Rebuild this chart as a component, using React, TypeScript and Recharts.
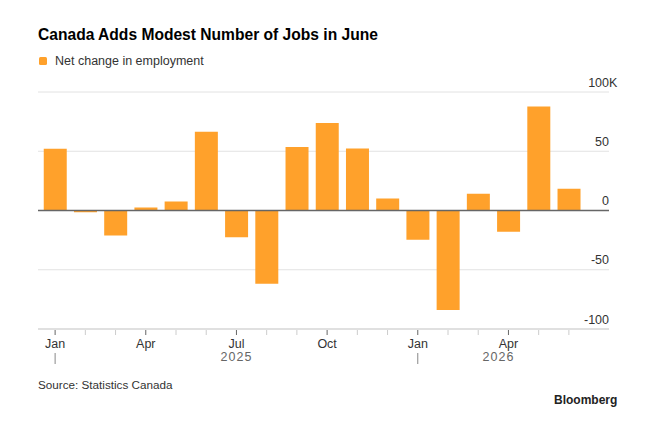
import React from "react";
import { BarChart, Bar, XAxis, YAxis, CartesianGrid, ReferenceLine } from "recharts";

const periods = [
  "2025-01", "2025-02", "2025-03", "2025-04", "2025-05", "2025-06",
  "2025-07", "2025-08", "2025-09", "2025-10", "2025-11", "2025-12",
  "2026-01", "2026-02", "2026-03", "2026-04", "2026-05", "2026-06",
];
const netChange = [
  52.1, -1.5, -21.1, 2.5, 7.6, 66.5,
  -22.5, -61.9, 53.5, 73.8, 52.4, 10.1,
  -24.7, -83.9, 14.1, -18.0, 87.8, 18.3,
];
const monthLabels = [
  "Jan", "", "", "Apr", "", "", "Jul", "", "", "Oct", "", "",
  "Jan", "", "", "Apr", "", "",
];
const yearLabels = [
  { period: "2025-07", text: "2025", dx: 0 },
  { period: "2026-04", text: "2026", dx: -10 },
];
const yearStarts = ["2025-01", "2026-01"];
const yTicks = [-100, -50, 0, 50, 100];

const data = periods.map((p, i) => ({ period: p, value: netChange[i], label: monthLabels[i] }));

const ORANGE = "#ffa12b";
const FONT = "'Liberation Sans', Arial, Helvetica, sans-serif";

const XTick = (props: any) => {
  const { x, y, payload, index } = props;
  const i = typeof index === "number" ? index : periods.indexOf(payload.value);
  const label = monthLabels[i];
  const major = label !== "";
  const year = yearLabels.find((yl) => yl.period === payload.value);
  const isYearStart = yearStarts.includes(payload.value);
  return (
    <g>
      <line x1={x} x2={x} y1={y + 1} y2={y + 6} stroke={major ? "#666" : "#ccc"} strokeWidth={1} />
      {major && (
        <text x={x} y={y + 19} textAnchor="middle" fontSize={12.5} fill="#333" fontFamily={FONT}>
          {label}
        </text>
      )}
      {isYearStart && <line x1={x} x2={x} y1={y + 24} y2={y + 35} stroke="#888" strokeWidth={1} />}
      {year && (
        <text x={x + year.dx} y={y + 32} textAnchor="middle" fontSize={12.5} fill="#666" fontFamily={FONT} letterSpacing={1}>
          {year.text}
        </text>
      )}
    </g>
  );
};

const YTick = (props: any) => {
  const { x, y, payload } = props;
  const v = payload.value;
  return (
    <g>
      <text x={x} y={y - 5.5} textAnchor="end" fontSize={12.5} fill="#333" fontFamily={FONT}>
        {v}
      </text>
      {v === 100 && (
        <text x={x} y={y - 5.5} textAnchor="start" fontSize={12.5} fill="#333" fontFamily={FONT}>
          K
        </text>
      )}
    </g>
  );
};

export default function App() {
  return (
    <div style={{ position: "absolute", left: 0, top: 0, width: 645, height: 423, background: "#fff", fontFamily: FONT }}>
      <div style={{ position: "absolute", left: 38, top: 24, fontSize: 15.6, lineHeight: "22px", fontWeight: 700, color: "#000", whiteSpace: "nowrap" }}>
        Canada Adds Modest Number of Jobs in June
      </div>
      <div style={{ position: "absolute", left: 39, top: 57, width: 8, height: 8, borderRadius: 1.5, background: ORANGE }} />
      <div style={{ position: "absolute", left: 55, top: 52, fontSize: 12.5, lineHeight: "18px", color: "#333", whiteSpace: "nowrap" }}>
        Net change in employment
      </div>
      <div style={{ position: "absolute", left: 0, top: 0 }}>
        <BarChart
          width={645}
          height={423}
          data={data}
          margin={{ top: 92, right: 0, bottom: 64, left: 38 }}
          barCategoryGap="12.4%"
        >
          <CartesianGrid vertical={false} stroke="#e2e2e2" />
          <XAxis
            dataKey="period"
            type="category"
            interval={0}
            height={30}
            padding={{ left: 2, right: 25 }}
            tickLine={false}
            tickSize={0}
            tickMargin={0}
            axisLine={{ stroke: "#cfcfcf" }}
            tick={<XTick />}
          />
          <YAxis
            orientation="right"
            width={36}
            domain={[-100, 100]}
            ticks={yTicks}
            axisLine={false}
            tickLine={false}
            tickSize={0}
            tickMargin={0}
            tick={<YTick />}
            allowDataOverflow
          />
          <Bar dataKey="value" fill={ORANGE} isAnimationActive={false} />
          <ReferenceLine y={0} stroke="#666" strokeWidth={1.5} />
        </BarChart>
      </div>
      <div style={{ position: "absolute", left: 38, top: 377, fontSize: 11.7, lineHeight: "16px", color: "#333", whiteSpace: "nowrap" }}>
        Source: Statistics Canada
      </div>
      <div style={{ position: "absolute", left: 554, top: 392, fontSize: 12, lineHeight: "16px", fontWeight: 700, color: "#222", whiteSpace: "nowrap" }}>
        Bloomberg
      </div>
    </div>
  );
}
